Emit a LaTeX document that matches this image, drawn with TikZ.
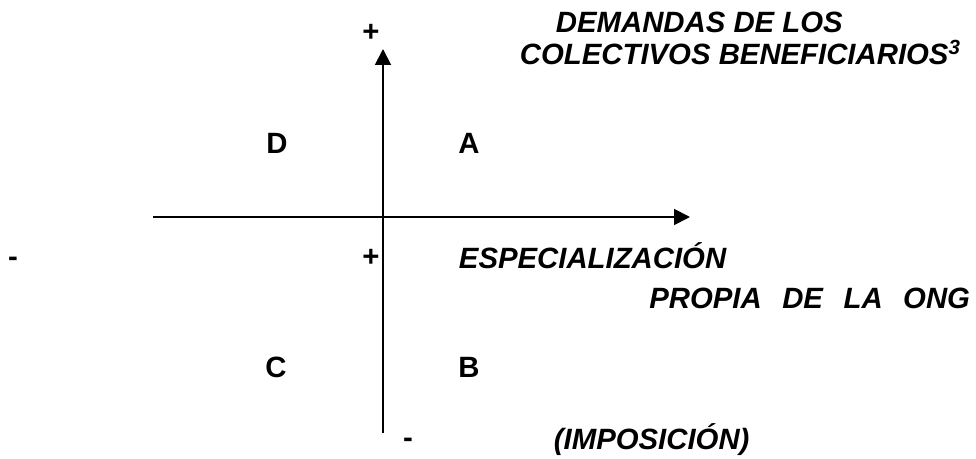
\documentclass[tikz,border=0pt]{standalone}
\usepackage{fontspec}
\setmainfont{Liberation Sans}
\usepackage{tikz}
\usetikzlibrary{arrows.meta}

\begin{document}
\begin{tikzpicture}[x=0.75pt,y=-0.75pt,>={Triangle[length=12pt,width=12pt]},
                    line width=1.4pt,
                    label text/.style={font=\fontsize{22}{26}\selectfont\bfseries\itshape,inner sep=0pt},
                    quad/.style={font=\fontsize{22}{26}\selectfont\bfseries,inner sep=0pt},
                    sign/.style={font=\fontsize{22}{26}\selectfont\bfseries,inner sep=0pt}]

  \useasboundingbox (0,0) rectangle (976,459);

  % axes
  \coordinate (o) at (383,217);
  \coordinate (left end) at (153,217);
  \coordinate (right end) at (690,217);
  \coordinate (top end) at (383,49);
  \coordinate (bottom end) at (383,433);
  \draw[->] (left end) -- (right end);
  \draw[->] (bottom end) -- (top end);

  % quadrants
  \node[quad] (D) at (277,143) {D};
  \node[quad] (A) at (469,143) {A};
  \node[quad] (C) at (276,367) {C};
  \node[quad] (B) at (469,367) {B};

  % signs
  \node[sign] (plus top) at (371,33) {+};
  \node[sign] (minus left) at (13,262) {-};
  \node[sign] (plus mid) at (371,258) {+};
  \node[sign] (minus bottom) at (408,443) {-};

  % axis names
  \node[label text,anchor=west] (dem1) at (555,22) {DEMANDAS DE LOS};
  \node[label text,anchor=west] (dem2) at (519,52) {COLECTIVOS BENEFICIARIOS\textsuperscript{3}};
  \node[label text,anchor=west] (esp1) at (458,256) {ESPECIALIZACIÓN};
  \node[label text,anchor=east] (esp2) at (971,298) {PROPIA\hspace{0.7em}DE\hspace{0.7em}LA\hspace{0.7em}ONG};
  \node[label text,anchor=west] (imp) at (553,440) {(IMPOSICIÓN)};
\end{tikzpicture}
\end{document}
